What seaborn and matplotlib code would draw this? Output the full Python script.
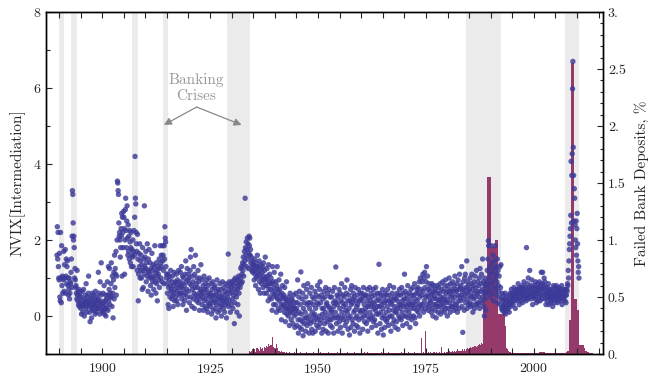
import numpy as np
import matplotlib
matplotlib.use('Agg')
import matplotlib.pyplot as plt
from matplotlib.ticker import MultipleLocator, FuncFormatter
import seaborn as sns

# ─── Data ────────────────────────────────────────────────────────────────────

# monthly NVIX, first value Jul 1889, one line per year
nvix_1889_1914 = [
    1.6, 2.35, 1.5, 2.2, 1.3, 1.0,
    0.95, 1.65, 0.5, 0.4, 2.2, 1.0, 0.35, 1.85, 0.8, 1.05, 0.6, 1.0,
    0.95, 1.7, 0.65, 1.35, 1.0, 1.75, 0.6, 1.05, 1.5, 0.85, 1.3, 1.45,
    1.0, 0.8, 0.55, 0.7, 1.0, 0.45, 0.6, 0.9, 0.85, 1.15, 1.5, 0.75,
    2.1, 3.3, 3.2, 2.45, 2.0, 2.1, 1.8, 1.0, 1.25, 0.95, 0.75, 0.8,
    0.6, 0.45, 1.2, 0.55, 0.4, 0.65, 0.3, 0.7, 0.25, 0.5, 0.6, 0.35,
    0.2, 0.5, 0.05, 0.3, 0.65, 0.4, 0.1, 0.25, 0.7, 0.3, 0.0, 0.45,
    0.35, 0.55, 0.2, 0.85, 0.4, 0.1, 0.3, 0.5, 0.25, 0.6, 1.05, 0.35,
    0.4, 0.1, -0.15, 0.3, 0.5, 0.2, -0.05, 0.45, 0.6, 0.25, 0.15, 0.35,
    0.3, 0.55, 0.15, 0.4, 0.05, 0.65, 0.25, 0.5, 0.1, 0.4, 0.3, 0.2,
    0.45, 1.15, 0.2, 0.6, 0.35, 0.05, 0.9, 0.4, 0.55, 1.4, 0.3, 0.15,
    0.25, 0.1, 0.6, 0.35, 0.15, 0.8, 0.05, 0.4, 0.2, 0.55, 0.0, 0.3,
    0.45, 0.2, 0.9, 0.55, 0.15, 1.3, 0.4, 0.7, 1.25, 0.3, 0.6, 0.5,
    0.85, 1.4, 0.5, 0.25, 1.05, 0.6, -0.05, 0.95, 1.15, 0.45, 1.6, 0.75,
    1.25, 1.1, 1.7, 0.55, 1.05, 2.0, 3.55, 3.5, 3.3, 3.2, 2.45, 2.1,
    2.2, 2.0, 1.55, 1.8, 2.3, 2.1, 2.7, 1.05, 2.6, 2.2, 1.8, 2.75,
    2.6, 2.3, 1.1, 2.0, 2.8, 3.1, 2.25, 1.8, 2.5, 2.9, 2.05, 1.6,
    2.4, 1.7, 2.1, 1.5, 2.25, 1.95, 1.4, 1.8, 2.2, 1.3, 1.75, 1.6,
    1.55, 2.0, 1.3, 1.7, 2.25, 1.6, 2.6, 4.2, 3.1, 2.95, 2.2, 1.9,
    1.7, 1.2, 2.15, 1.5, 0.4, 1.1, 1.65, 1.3, 1.9, 1.0, 1.45, 1.2,
    1.6, 1.0, 1.35, 0.7, 1.8, 1.2, 0.75, 1.5, 1.1, 2.9, 1.3, 1.55,
    1.25, 1.7, 0.9, 1.4, 1.05, 1.9, 1.2, 0.65, 1.5, 1.15, 1.75, 1.0,
    1.1, 1.4, 0.8, 1.25, 0.55, 1.0, 1.65, 1.2, 0.9, 1.35, 1.05, 0.7,
    1.0, 1.3, 1.85, 0.9, 1.15, 0.6, 1.4, 0.85, 1.2, 0.4, 1.05, 1.3,
    1.1, 0.95, 1.5, 0.75, 1.25, 1.85, 1.4, 1.0, 1.6, 1.3, 0.9, 1.85,
    1.45, 1.6, 1.2, 0.85, 1.85, 1.5, 2.35, 2.05, 1.95, 1.3, 1.0, 1.1,
]
nvix_1915_1944 = [
    0.85, 0.6, 1.1, 0.3, 0.75, 0.2, 0.95, 1.05, 0.5, 0.8, 1.2, 0.65,
    0.7, 0.45, 0.9, 1.05, 0.55, 0.25, 0.8, 0.6, 1.15, 0.4, 0.7, 0.9,
    0.5, 0.85, 1.1, 0.4, 0.65, 0.95, 0.3, 0.75, 1.2, 0.55, 0.8, 0.6,
    0.9, 1.15, 0.6, 0.75, 1.3, 0.45, 0.85, 1.05, 0.3, 0.7, 1.0, 0.55,
    0.8, 0.4, 1.1, 0.6, 1.45, 0.9, 0.15, 0.7, 1.25, 0.5, 0.95, 1.1,
    0.65, 1.0, 0.35, 0.85, 1.2, 1.55, 0.5, 1.75, 0.8, 0.25, 1.05, 0.7,
    0.9, 0.45, 1.3, 0.6, 0.2, 1.1, 0.75, 1.6, 0.55, 0.85, 0.4, 1.0,
    0.5, 0.75, 1.2, 0.35, 0.9, 0.6, 0.15, 1.0, 0.45, 0.7, 1.35, 0.55,
    0.65, 0.3, 0.95, 0.5, 0.8, 0.15, 0.6, 1.05, 0.4, 0.7, 0.25, 0.85,
    0.45, 0.7, 0.2, 0.95, 0.55, 0.1, 0.8, 0.35, 0.6, 1.0, 0.3, 0.5,
    0.6, 0.25, 0.85, 0.4, 0.05, 0.7, 0.5, 0.9, 0.15, 0.55, 0.35, 0.75,
    0.4, 0.8, 0.2, 0.55, -0.05, 0.65, 0.3, 0.95, 0.45, 0.1, 0.7, 0.5,
    0.35, 0.6, 0.15, 0.85, 0.45, 0.25, 0.7, 0.0, 0.5, 0.3, 0.9, 0.4,
    0.55, 0.2, 0.75, 0.4, 0.1, 0.65, 0.3, 0.85, 0.45, -0.05, 0.6, 0.35,
    0.5, 0.8, 1.63, 0.25, 0.7, 0.9, 0.4, 0.6, 0.1, 0.85, 0.3, 0.75,
    0.65, 0.9, 0.45, 0.2, 0.8, 0.55, 0.95, -0.2, 0.35, 0.7, 1.0, 0.6,
    0.85, 0.5, 0.1, 0.95, 0.7, 0.3, 0.8, 1.05, 0.6, 0.0, 0.9, 0.75,
    1.0, 1.25, 0.85, 1.3, 1.1, 0.9, 1.4, 1.2, 1.55, 1.05, 1.35, 1.7,
    1.45, 3.1, 1.8, 1.6, 1.95, 1.3, 1.75, 2.05, 1.5, 1.9, 1.25, 1.65,
    2.1, 1.85, 2.05, 1.6, 1.75, 1.4, 1.55, 1.2, 1.3, 1.45, 1.15, 1.35,
    1.2, 1.35, 0.95, 1.5, 1.1, 1.25, 0.8, 1.4, 1.0, 1.3, 1.15, 1.6,
    1.05, 1.3, 0.7, 1.2, 1.45, 0.9, 1.1, 0.6, 1.35, 1.0, 1.25, 0.85,
    1.15, 0.95, 1.3, 0.75, 1.4, 1.05, 0.6, 1.2, 0.9, 1.55, 1.0, 0.8,
    0.95, 0.6, 1.25, 0.8, 1.05, 0.4, 1.35, 0.7, 0.9, 1.1, 0.5, 0.85,
    0.7, 1.0, 0.45, 0.85, 0.15, 1.3, 0.6, 0.9, 0.3, 0.75, 1.15, 0.55,
    0.65, 0.3, 0.9, 0.5, 0.1, 0.8, 1.3, 0.45, 0.7, 0.2, 0.6, 0.95,
    0.4, 0.7, 0.15, 0.55, 1.1, 0.3, -0.1, 0.6, 0.45, 0.8, 0.25, 0.5,
    0.3, 0.55, 0.1, 0.75, 0.2, -0.15, 0.45, 0.35, 0.9, 0.05, 0.4, 0.2,
    0.25, 0.0, 0.5, 0.15, -0.25, 0.35, 0.6, 0.1, 0.3, -0.1, 0.45, 0.2,
    0.1, 0.4, -0.2, 0.25, 0.55, 0.0, 0.2, -0.3, 0.35, 0.15, 0.6, 0.05,
]
nvix_1945_1974 = [
    0.2, -0.25, 0.35, 0.95, -0.1, -0.45, 0.5, 0.1, 0.65, -0.3, 0.3, -0.1,
    1.16, 0.05, -0.35, 0.45, -0.15, 0.6, -0.52, 0.2, 0.8, -0.2, 0.35, -0.05,
    0.1, -0.4, 0.5, -0.05, 0.7, -0.25, 0.3, 0.85, -0.15, 0.35, 0.0, -0.45,
    0.2, 0.6, -0.2, 0.35, -0.1, 0.75, -0.35, 0.1, 0.5, -0.45, 0.3, 0.0,
    -0.15, 0.45, 0.05, 0.65, -0.4, 0.2, -0.05, 0.55, -0.25, 0.35, 0.8, -0.1,
    0.3, -0.3, 0.5, 0.0, 0.7, 0.9, -0.2, 0.35, -0.1, 0.55, -0.45, 0.2,
    0.05, 0.45, -0.35, 0.2, 0.65, -0.05, -0.2, 0.5, 0.1, 0.75, -0.4, 0.3,
    0.35, -0.15, 0.6, 0.0, -0.45, 0.25, 0.7, -0.1, 0.2, 0.5, -0.25, 0.1,
    -0.1, 0.5, 0.15, -0.3, 0.65, 0.0, 0.35, -0.45, 0.25, 0.75, -0.05, 0.4,
    0.1, 1.29, 0.35, -0.2, 0.55, -0.05, 0.3, -0.4, 0.5, 0.0, 0.7, -0.15,
    0.2, 0.6, -0.3, 0.4, -0.05, 0.85, 0.1, -0.45, 0.35, 0.55, -0.1, 0.25,
    0.5, 0.0, 0.75, -0.25, 0.3, 0.15, 0.6, -0.15, 0.95, 0.1, 0.4, -0.35,
    -0.05, 0.55, 0.2, -0.5, 0.4, 0.0, 0.7, -0.3, 0.3, 0.8, -0.1, 0.45,
    0.35, -0.2, 0.6, 0.1, 0.5, -0.4, 0.15, 0.75, -0.05, 0.4, -0.25, 0.25,
    0.0, 0.55, 0.3, -0.3, 0.7, -0.1, 0.4, 0.15, -0.45, 0.6, 0.1, 0.45,
    0.4, -0.05, 0.6, 0.15, -0.35, 0.5, 0.75, 0.0, 0.3, -0.15, 0.55, 0.1,
    0.2, 0.55, -0.2, 0.4, 0.0, 0.7, -0.4, 0.25, 0.5, -0.1, 0.3, 0.75,
    0.1, 0.4, -0.05, 0.6, 0.25, -0.3, 0.5, 0.0, 0.35, 0.7, -0.15, 0.2,
    0.3, -0.1, 0.55, 0.15, 0.75, -0.25, 0.4, 0.05, 0.6, 0.25, -0.45, 0.45,
    0.05, 1.36, 0.25, 0.6, -0.2, 0.4, 0.1, 0.55, -0.35, 0.3, -0.05, 0.7,
    0.2, -0.5, 0.5, 0.0, 0.35, -0.3, 0.6, -0.1, 0.4, 0.1, 0.55, -0.15,
    0.25, 0.7, -0.05, 0.4, -0.25, 0.55, 0.15, 0.8, 0.0, 0.35, -0.4, 0.45,
    0.3, 0.0, 0.6, -0.2, 0.4, 0.15, 0.75, -0.1, 0.5, 0.25, -0.3, 0.1,
    0.45, 0.1, -0.15, 0.6, 0.2, 0.4, -0.35, 0.55, 0.0, 0.3, 0.7, -0.05,
    0.2, 0.55, 0.3, -0.1, 0.75, 0.1, 0.4, -0.25, 0.6, 0.25, 0.0, 0.45,
    1.1, 0.3, 0.65, 0.0, 0.45, 0.15, -0.2, 0.55, 0.25, 0.8, -0.05, 0.35,
    0.1, 0.6, 0.3, -0.3, 0.45, 0.0, 0.7, 0.2, -0.1, 0.55, 0.3, 0.75,
    0.35, 0.0, 0.55, 0.2, 0.85, -0.05, 0.45, -0.2, 0.3, 0.6, 0.15, 0.7,
    0.4, 0.75, 0.1, 0.6, 0.25, 0.9, 0.0, 0.5, 1.0, 0.3, 0.7, 0.2,
    0.55, 0.9, 0.3, 1.1, 0.65, 0.1, 1.0, 0.4, 1.15, 0.75, 0.2, 0.5,
]
nvix_1975_2010 = [
    0.9, 1.3, 0.55, 0.3, 1.05, 0.7, 0.15, 0.5, 0.85, 0.25, 0.65, 0.4,
    0.35, 0.75, 0.1, 0.55, 0.85, 0.2, 0.6, 0.0, 0.45, 0.8, 0.3, 0.65,
    0.5, 0.15, 0.7, 0.3, -0.05, 0.45, 0.8, 0.25, 0.6, 0.1, 0.4, 0.75,
    0.25, 0.6, 0.4, 0.85, 0.05, 0.5, 0.3, 0.7, 0.15, 0.45, 0.9, 0.35,
    0.65, 0.25, 0.5, 0.1, 0.8, 0.4, 0.95, 0.2, 0.6, 0.35, 0.7, 0.0,
    0.45, 0.8, 0.2, 0.6, 1.0, 0.35, 0.65, 0.1, 0.85, 0.5, 0.25, 0.7,
    0.55, 0.25, 0.9, 0.4, 0.65, 0.15, 0.8, 0.5, 1.05, 0.3, 0.7, 0.2,
    0.65, 0.3, 0.85, 0.1, 0.55, 0.95, 0.4, 0.7, 0.2, 1.1, 0.5, 0.75,
    0.4, 0.8, 0.55, 1.3, 0.25, 0.65, -0.43, 0.9, 0.45, 0.7, 0.15, 1.0,
    0.55, 1.1, 0.35, 0.75, 0.6, 1.45, 0.2, 0.9, 0.45, 0.8, 0.3, 0.65,
    0.7, 0.35, 1.0, 0.55, 0.25, 0.85, 0.5, 1.1, 0.3, 0.7, 0.1, 0.8,
    0.45, 0.9, 0.6, 0.2, 1.05, 0.5, 0.75, 0.3, 1.2, 0.65, 0.35, 0.9,
    0.6, 0.3, 0.8, 0.5, 1.0, 0.2, 1.25, 0.65, 0.4, 0.85, 1.1, 0.35,
    0.7, 1.5, 0.5, 0.9, 0.25, 0.6, 0.0, 1.0, 0.45, 0.8, 0.15, 0.65,
    0.9, 0.6, 1.2, 0.8, 1.5, 1.98, 1.85, 1.0, 0.7, 1.3, 0.5, 1.1,
    0.85, 1.85, 1.4, 0.6, 1.15, 0.9, 1.6, 0.4, 1.25, 0.75, 1.45, 1.0,
    1.85, 0.7, 1.3, 0.55, 1.1, 0.9, 1.5, 0.35, 1.2, 0.8, 0.65, 1.05,
    0.5, 1.3, 0.3, 0.75, 1.35, 0.45, 0.2, 0.6, 0.15, 0.4, 0.25, 0.55,
    0.3, 0.1, 0.45, 0.2, 0.6, 0.05, 0.35, 0.25, 0.5, 0.15, 0.4, 0.3,
    0.2, 0.45, 0.35, 0.1, 0.55, 0.3, 0.6, 0.25, 0.4, 0.7, 0.35, 0.5,
    0.45, 0.6, 0.3, 0.55, 0.75, 0.4, 0.65, 0.5, 0.2, 0.6, 0.45, 0.7,
    0.55, 0.4, 0.7, 0.6, 0.85, 0.45, 0.65, 0.3, 0.75, 0.5, 0.6, 0.4,
    0.6, 0.75, 0.5, 0.65, 0.35, 0.8, 0.55, 0.7, 0.9, 0.45, 0.6, 0.75,
    0.5, 0.65, 0.4, 1.8, 0.7, 0.55, 0.85, 0.45, 1.0, 0.6, 0.75, 0.5,
    1.2, 0.6, 0.7, 0.45, 0.8, 0.55, 0.95, 0.65, 0.3, 0.75, 0.5, 0.6,
    0.55, 0.8, 0.45, 0.65, 0.9, 0.5, 0.7, 0.35, 0.75, 0.6, 0.85, 0.4,
    0.6, 0.75, 0.5, 0.9, 0.65, 0.4, 0.8, 0.55, 1.15, 0.7, 0.45, 0.85,
    1.15, 0.7, 0.55, 0.8, 1.0, 0.6, 0.9, 0.45, 0.75, 0.3, 0.65, 0.5,
    0.6, 0.4, 0.75, 0.55, 0.85, 0.3, 0.65, 0.5, 0.7, 0.45, 0.6, 0.35,
    0.5, 0.7, 0.4, 0.6, 0.25, 0.55, 0.8, 0.45, 0.65, 0.35, 0.75, 0.55,
    0.45, 0.6, 0.8, 0.5, 0.7, 0.35, 0.55, 0.65, 0.4, 0.75, 0.5, 0.6,
    0.55, 0.7, 0.4, 0.65, 0.5, 0.8, 0.3, 0.6, 0.45, 0.7, 0.55, 0.65,
    0.5, 0.65, 0.4, 0.7, 0.55, 0.35, 0.55, 0.7, 0.65, 0.85, 0.8, 1.2,
    1.0, 1.45, 1.75, 1.9, 2.1, 2.3, 2.65, 4.07, 2.45, 3.7, 4.27, 5.98,
    6.7, 4.44, 3.7, 2.5, 3.35, 3.1, 2.4, 2.0, 1.8, 2.5, 1.6, 2.3,
    2.7, 1.9, 1.45, 1.15, 1.3, 1.0,
]
NVIX_START = 1889.5

# quarterly failed bank deposits (% of deposits), first value Q1 1934,
# four years per line
deposits_1934_1973 = [
    0.03, 0.02, 0.03, 0.04, 0.03, 0.04, 0.02, 0.05, 0.04, 0.03, 0.06, 0.04, 0.05, 0.03, 0.06, 0.05,
    0.07, 0.06, 0.09, 0.07, 0.08, 0.15, 0.06, 0.05, 0.04, 0.09, 0.05, 0.03, 0.03, 0.02, 0.03, 0.02,
    0.02, 0.01, 0.02, 0.01, 0.01, 0.02, 0.01, 0.01, 0.01, 0.01, 0.02, 0.01, 0.01, 0.01, 0.01, 0.02,
    0.01, 0.01, 0.01, 0.01, 0.01, 0.02, 0.01, 0.01, 0.01, 0.01, 0.01, 0.02, 0.01, 0.01, 0.01, 0.01,
    0.01, 0.01, 0.02, 0.01, 0.01, 0.01, 0.01, 0.01, 0.01, 0.02, 0.01, 0.01, 0.01, 0.01, 0.01, 0.01,
    0.01, 0.01, 0.02, 0.01, 0.01, 0.01, 0.01, 0.01, 0.01, 0.01, 0.01, 0.02, 0.01, 0.01, 0.01, 0.01,
    0.01, 0.02, 0.01, 0.01, 0.01, 0.01, 0.01, 0.01, 0.01, 0.01, 0.01, 0.02, 0.01, 0.02, 0.01, 0.01,
    0.01, 0.01, 0.01, 0.01, 0.01, 0.01, 0.01, 0.01, 0.01, 0.01, 0.02, 0.01, 0.01, 0.01, 0.01, 0.01,
    0.01, 0.02, 0.01, 0.01, 0.01, 0.01, 0.01, 0.01, 0.01, 0.01, 0.01, 0.01, 0.01, 0.02, 0.01, 0.01,
    0.01, 0.01, 0.01, 0.02, 0.01, 0.01, 0.01, 0.01, 0.01, 0.02, 0.01, 0.01, 0.01, 0.01, 0.01, 0.14,
]
deposits_1974_2013 = [
    0.01, 0.02, 0.01, 0.20, 0.02, 0.01, 0.02, 0.01, 0.02, 0.01, 0.01, 0.02, 0.01, 0.02, 0.01, 0.01,
    0.02, 0.01, 0.06, 0.01, 0.01, 0.02, 0.01, 0.02, 0.02, 0.03, 0.02, 0.02, 0.03, 0.02, 0.03, 0.02,
    0.03, 0.04, 0.03, 0.03, 0.03, 0.04, 0.03, 0.04, 0.03, 0.04, 0.05, 0.04, 0.05, 0.06, 0.05, 0.06,
    0.06, 0.07, 0.06, 0.07, 0.08, 0.09, 0.08, 0.10, 0.09, 0.62, 0.63, 0.64, 0.64, 1.55, 1.55, 1.55,
    0.94, 0.94, 0.94, 0.94, 1.00, 1.00, 1.00, 0.35, 0.35, 0.35, 0.35, 0.50, 0.50, 0.25, 0.05, 0.04,
    0.03, 0.02, 0.02, 0.01, 0.01, 0.01, 0.01, 0.01, 0.01, 0.01, 0.01, 0.01, 0.01, 0.01, 0.01, 0.01,
    0.01, 0.01, 0.01, 0.01, 0.01, 0.01, 0.01, 0.01, 0.01, 0.01, 0.01, 0.01, 0.01, 0.02, 0.02, 0.02,
    0.02, 0.02, 0.01, 0.01, 0.01, 0.01, 0.01, 0.01, 0.01, 0.01, 0.01, 0.01, 0.01, 0.01, 0.01, 0.01,
    0.01, 0.01, 0.01, 0.01, 0.01, 0.01, 0.02, 0.03, 0.03, 0.30, 2.55, 2.55, 2.55, 0.48, 0.48, 0.48,
    0.39, 0.39, 0.08, 0.08, 0.08, 0.08, 0.05, 0.03, 0.03, 0.02, 0.02, 0.01, 0.01, 0.01, 0.005, 0.0,
]
DEPOSITS_START = 1934.0

# banking crisis periods (start, end)
crisis_start = [1890.0, 1892.9, 1906.9, 1914.0, 1929.0, 1984.3, 2007.3]
crisis_end   = [1891.1, 1894.1, 1908.3, 1915.2, 1934.2, 1992.5, 2010.5]

# ─── Assemble series ──────────────────────────────────────────────────────────

nvix = np.array(nvix_1889_1914 + nvix_1915_1944 + nvix_1945_1974 + nvix_1975_2010)
nvix_t = NVIX_START + np.arange(len(nvix)) / 12 + 1 / 24

deposits = np.array(deposits_1934_1973 + deposits_1974_2013)
deposits_t = DEPOSITS_START + np.arange(len(deposits)) / 4

# ─── Plot ─────────────────────────────────────────────────────────────────────

sns.set_style("ticks")
plt.rcParams['font.family'] = ['cmr10', 'DejaVu Serif']
plt.rcParams['mathtext.fontset'] = 'cm'
plt.rcParams['axes.formatter.use_mathtext'] = True
plt.rcParams['axes.unicode_minus'] = False

SCATTER_COL = "#3c3a98"
BAR_COL = "#963a6c"
SHADE_COL = "#ebebeb"

fig = plt.figure(figsize=(6.56, 3.77), dpi=100)
ax = fig.add_axes([0.0701, 0.061, 0.849, 0.907])
ax2 = ax.twinx()

for s, e in zip(crisis_start, crisis_end):
    ax2.axvspan(s, e, color=SHADE_COL, lw=0, zorder=0)

ax2.bar(deposits_t, deposits, width=0.25, align='edge', color=BAR_COL,
        linewidth=0, zorder=2)

sns.scatterplot(x=nvix_t, y=nvix, ax=ax, color=SCATTER_COL, s=15,
                alpha=0.82, edgecolor='none', linewidth=0, zorder=3)

# scatter in front of the bars
ax.set_zorder(ax2.get_zorder() + 1)
ax.patch.set_visible(False)

ax.set_xlim(1887.0, 2016.0)
ax.set_ylim(-1, 8)
ax2.set_ylim(0, 3)

ax.xaxis.set_major_locator(MultipleLocator(25))
ax.xaxis.set_minor_locator(MultipleLocator(5))
ax.yaxis.set_major_locator(MultipleLocator(2))
ax.yaxis.set_minor_locator(MultipleLocator(1))
ax2.yaxis.set_major_locator(MultipleLocator(0.5))
ax2.yaxis.set_minor_locator(MultipleLocator(0.1))
ax2.yaxis.set_major_formatter(FuncFormatter(
    lambda v, p: f"{v:.0f}." if abs(v - round(v)) < 1e-9 else f"{v:g}"))

ax.tick_params(axis='x', which='both', direction='in', top=True, bottom=True,
               length=4, width=0.8, labelsize=10, pad=6)
ax.tick_params(axis='y', which='major', direction='in', length=4.5, width=0.8,
               labelsize=10, right=False)
ax.tick_params(axis='y', which='minor', direction='in', length=3, width=0.8,
               right=False)
ax2.tick_params(axis='y', which='major', direction='in', length=4.5, width=0.8,
                labelsize=10)
ax2.tick_params(axis='y', which='minor', direction='in', length=2.5, width=0.8)

for a in (ax, ax2):
    for sp in a.spines.values():
        sp.set_linewidth(1.0)
        sp.set_color('black')

ax.set_ylabel("NVIX[Intermediation]", fontsize=11, labelpad=5)
ax2.set_ylabel("Failed Bank Deposits, %", fontsize=11, labelpad=6)

ax.text(1921.8, 6.0, "Banking\nCrises", ha='center', va='center',
        color='#999999', fontsize=11, linespacing=1.15)
for head_x in (1914.3, 1932.3):
    ax.annotate("", xy=(head_x, 5.03), xytext=(1921.9, 5.5),
                arrowprops=dict(arrowstyle='-|>', color='#888888', lw=0.9,
                                mutation_scale=11, shrinkA=0, shrinkB=0))

fig.savefig("out.png", dpi=100)
